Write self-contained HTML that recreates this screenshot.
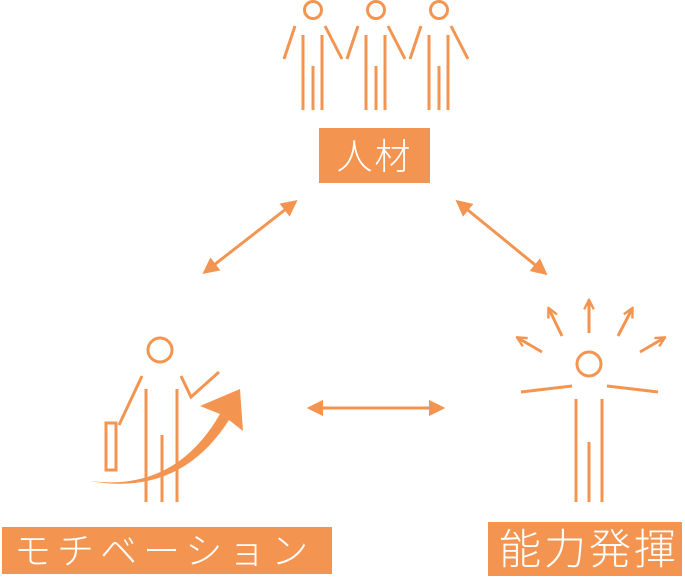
<!DOCTYPE html>
<html><head><meta charset="utf-8"><style>
html,body{margin:0;padding:0;background:#fff;width:685px;height:579px;overflow:hidden}
svg{display:block}
text{font-family:"Liberation Sans","Noto Sans CJK JP",sans-serif;fill:#fff;font-weight:300}
</style></head><body>
<svg width="685" height="579" viewBox="0 0 685 579" xmlns="http://www.w3.org/2000/svg">
<defs>
<marker id="ah" viewBox="0 0 10 10" refX="8" refY="5" markerWidth="5.5" markerHeight="5.5" orient="auto-start-reverse"><path d="M0,0 L10,5 L0,10 z" fill="#f39551"/></marker>
<marker id="sa" viewBox="0 0 10 10" refX="8" refY="5" markerWidth="4" markerHeight="4" orient="auto"><path d="M1,1 L9,5 L1,9" fill="none" stroke="#f39551" stroke-width="2"/></marker>
</defs>
<g stroke="#f39551" stroke-width="3" fill="none">
<g id="p"><circle cx="313" cy="10" r="8.5"/><line x1="295" y1="26" x2="284" y2="59"/><line x1="325" y1="26" x2="342" y2="59"/><line x1="303" y1="35" x2="303" y2="110"/><line x1="322" y1="35" x2="322" y2="110"/><line x1="313" y1="66" x2="313" y2="110"/></g>
<use href="#p" x="63"/><use href="#p" x="126"/>
<line x1="205" y1="272" x2="295" y2="202" marker-start="url(#ah)" marker-end="url(#ah)"/>
<line x1="458" y1="202" x2="545" y2="273" marker-start="url(#ah)" marker-end="url(#ah)"/>
<line x1="310" y1="408" x2="442" y2="408" marker-start="url(#ah)" marker-end="url(#ah)"/>
<circle cx="160" cy="350" r="12"/>
<line x1="142" y1="376" x2="119" y2="425"/>
<rect x="106" y="423" width="10" height="47"/>
<line x1="146" y1="389" x2="146" y2="502"/><line x1="177" y1="389" x2="177" y2="502"/><line x1="162" y1="435" x2="162" y2="502"/>
<polyline points="219,372 191,397 181,376"/>
<circle cx="589" cy="364" r="12"/>
<line x1="521" y1="392" x2="572" y2="386"/><line x1="607" y1="386" x2="658" y2="392"/>
<line x1="576" y1="399" x2="576" y2="502"/><line x1="602" y1="399" x2="602" y2="502"/><line x1="589" y1="442" x2="589" y2="502"/>
<g marker-end="url(#sa)">
<line x1="589" y1="333" x2="589" y2="301"/>
<line x1="542" y1="352" x2="518" y2="338"/>
<line x1="562" y1="336" x2="549" y2="309"/>
<line x1="618" y1="336" x2="632" y2="309"/>
<line x1="640" y1="352" x2="664" y2="338"/>
</g>
</g>
<path d="M90,481 Q175,492 220,414 L200,406 L240,389 L243,431 L229,420 Q180,497 90,481 Z" fill="#f39551"/>
<rect x="319" y="128" width="111" height="55" fill="#f39551"/>
<text x="374.5" y="169" font-size="36" text-anchor="middle" letter-spacing="2">人材</text>
<rect x="2" y="527" width="330" height="47" fill="#f39551"/>
<text x="14" y="564" font-size="37" letter-spacing="6">モチベーション</text>
<rect x="488" y="522" width="194" height="54" fill="#f39551"/>
<text x="499" y="564" font-size="42" letter-spacing="3">能力発揮</text>
</svg>
</body></html>
